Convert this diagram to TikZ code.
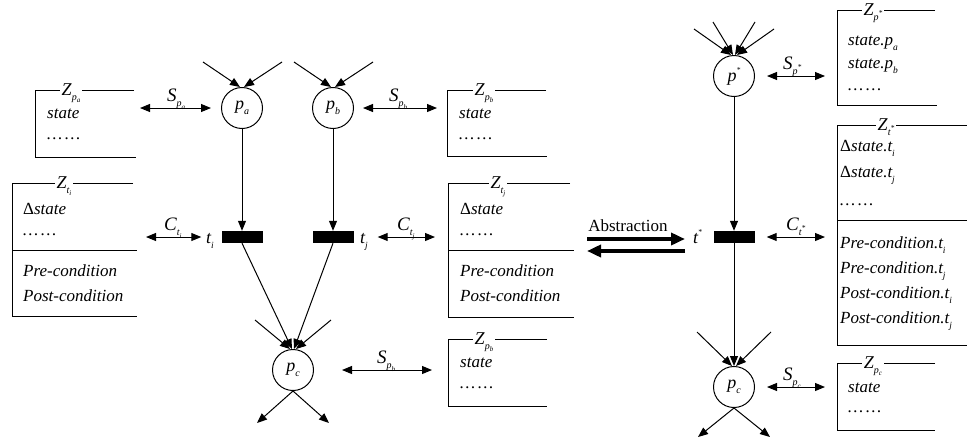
\documentclass[tikz,border=0pt]{standalone}
\usepackage{fontspec}
\setmainfont{Liberation Serif}
\usetikzlibrary{arrows.meta}
\newcommand{\sbx}[2]{#1\raisebox{-0.3em}{\fontsize{10}{10}\selectfont #2}}
\newcommand{\ssbx}[2]{#1\raisebox{-0.25em}{\fontsize{7}{7}\selectfont #2}}
\newcommand{\tsb}[2]{#1\raisebox{-0.3em}{\fontsize{9.5}{9.5}\selectfont #2}}
\newcommand{\supx}[2]{#1\raisebox{0.5em}{\fontsize{7.5}{7.5}\selectfont #2}}
\begin{document}
\begin{tikzpicture}[x=1pt,y=-1pt,
  place/.style={circle,draw,line width=1pt,minimum size=41pt,inner sep=0pt,font=\fontsize{18}{19}\selectfont\itshape},
  trans/.style={fill=black,minimum width=41pt,minimum height=12pt,inner sep=0pt},
  arc/.style={line width=1pt,-{Triangle[length=10pt,width=8pt]}},
  link/.style={line width=1pt,{Triangle[length=10pt,width=8pt]}-{Triangle[length=10pt,width=8pt]}},
  frame/.style={line width=1pt},
  txt/.style={anchor=base west,inner sep=0pt,font=\fontsize{17}{19}\selectfont\itshape},
  lab/.style={anchor=base west,inner sep=0pt,font=\fontsize{19}{21}\selectfont\itshape},
  zlab/.style={anchor=base,fill=white,inner xsep=2pt,inner ysep=0pt,font=\fontsize{18}{20}\selectfont\itshape},
  bigarrow/.style={line width=4.5pt,-{Triangle[length=14pt,width=12pt]}}
]
\useasboundingbox (0,0) rectangle (967,445);

% ---------- left net ----------
\node[place] (pa) at (242,108) {\sbx{p}{a}};
\node[place] (pb) at (333,108) {\sbx{p}{b}};
\node[trans] (ti) at (242,237) {};
\node[trans] (tj) at (333,237) {};
\node[place] (pc) at (293,370) {\sbx{p}{c}};

\coordinate (ina1) at (203,62);
\coordinate (ina2) at (282,62);
\coordinate (inb1) at (294,62);
\coordinate (inb2) at (373,62);
\coordinate (inc1) at (255,320);
\coordinate (inc2) at (331,320);
\coordinate (outc1) at (257,423);
\coordinate (outc2) at (329,423);

\draw[arc] (ina1) -- ([xshift=-2pt]pa.north);
\draw[arc] (ina2) -- ([xshift=2pt]pa.north);
\draw[arc] (inb1) -- ([xshift=-2pt]pb.north);
\draw[arc] (inb2) -- ([xshift=2pt]pb.north);
\draw[arc] (pa) -- (ti);
\draw[arc] (pb) -- (tj);
\draw[arc] (ti.south) -- ([xshift=-1pt]pc.north);
\draw[arc] (tj.south) -- ([xshift=1pt]pc.north);
\draw[arc] (inc1) -- ([xshift=-3pt]pc.north);
\draw[arc] (inc2) -- ([xshift=3pt]pc.north);
\draw[arc] (pc.south) -- (outc1);
\draw[arc] (pc.south) -- (outc2);

\node[txt,font=\fontsize{18}{19}\selectfont\itshape] (tilab) at (206,243) {\tsb{t}{i}};
\node[txt,font=\fontsize{18}{19}\selectfont\itshape] (tjlab) at (360,243) {\tsb{t}{j}};

% boxes left
\draw[frame] (134,90) -| (35,157) -- (136,157);
\node[zlab] (zpa) at (71,95) {\sbx{Z}{\ssbx{p}{a}}};
\node[txt] (zpa1) at (47,118) {state};
\node[txt] (zpa2) at (47,139) {…\,…};

\draw[frame] (133,183) -| (12,316) -- (137,316);
\draw[frame] (12,250) -- (137,250);
\node[zlab] (zti) at (64,188) {\sbx{Z}{\ssbx{t}{i}}};
\node[txt] (zti1) at (23,214) {\upshape Δ\itshape state};
\node[txt] (zti2) at (23,235) {…\,…};
\node[txt] (zti3) at (23,276) {Pre-condition};
\node[txt] (zti4) at (23,301) {Post-condition};

\draw[frame] (546,90) -| (447,156) -- (547,156);
\node[zlab] (zpb) at (484,95) {\sbx{Z}{\ssbx{p}{b}}};
\node[txt] (zpb1) at (459,118) {state};
\node[txt] (zpb2) at (459,139) {…\,…};

\draw[frame] (570,183) -| (448,317) -- (574,317);
\draw[frame] (448,250) -- (574,250);
\node[zlab] (ztj) at (498,188) {\sbx{Z}{\ssbx{t}{j}}};
\node[txt] (ztj1) at (460,214) {\upshape Δ\itshape state};
\node[txt] (ztj2) at (460,235) {…\,…};
\node[txt] (ztj3) at (460,276) {Pre-condition};
\node[txt] (ztj4) at (460,301) {Post-condition};

\draw[frame] (547,339) -| (448,406) -- (547,406);
\node[zlab] (zpc) at (484,344) {\sbx{Z}{\ssbx{p}{b}}};
\node[txt] (zpc1) at (460,367) {state};
\node[txt] (zpc2) at (460,388) {…\,…};

% links left
\coordinate (zpaE) at (140,108);
\coordinate (ztiE) at (146,237);
\coordinate (zpbW) at (437,108);
\coordinate (ztjW) at (435,237);
\coordinate (zpcW) at (432,370);
\draw[link] (zpaE) -- ([xshift=-10pt]pa.west);
\draw[link] (ztiE) -- ([xshift=-20pt]ti.west);
\draw[link] ([xshift=9pt]pb.east) -- (zpbW);
\draw[link] ([xshift=24pt]tj.east) -- (ztjW);
\draw[link] ([xshift=28pt]pc.east) -- (zpcW);
\node[lab] (spa) at (167,101) {\sbx{S}{\ssbx{p}{a}}};
\node[lab] (cti) at (164,230) {\sbx{C}{\ssbx{t}{i}}};
\node[lab] (spb) at (389,101) {\sbx{S}{\ssbx{p}{b}}};
\node[lab] (ctj) at (397,230) {\sbx{C}{\ssbx{t}{j}}};
\node[lab] (spc) at (377,363) {\sbx{S}{\ssbx{p}{b}}};

% ---------- abstraction ----------
\node[anchor=base,inner sep=0pt,font=\fontsize{17}{19}\selectfont] (abs) at (628,231) {Abstraction};
\coordinate (absL1) at (587,239);
\coordinate (absR1) at (685,239);
\coordinate (absL2) at (587,251);
\coordinate (absR2) at (685,251);
\draw[bigarrow] (absL1) -- (absR1);
\draw[bigarrow] (absR2) -- (absL2);

% ---------- right net ----------
\node[place] (ps) at (734,76) {\supx{p}{*}};
\node[trans] (ts) at (734,237) {};
\node[place] (pc2) at (734,387) {\sbx{p}{c}};
\node[txt,font=\fontsize{18}{19}\selectfont\itshape] (tslab) at (693,243) {\supx{t}{*}};

\coordinate (ins1) at (694,29);
\coordinate (ins2) at (713,22);
\coordinate (ins3) at (755,22);
\coordinate (ins4) at (774,29);
\coordinate (inr1) at (697,332);
\coordinate (inr2) at (771,332);
\coordinate (outr1) at (698,437);
\coordinate (outr2) at (770,437);
\draw[arc] (ins1) -- ([xshift=-3pt]ps.north);
\draw[arc] (ins2) -- ([xshift=-1pt]ps.north);
\draw[arc] (ins3) -- ([xshift=1pt]ps.north);
\draw[arc] (ins4) -- ([xshift=3pt]ps.north);
\draw[arc] (ps) -- (ts);
\draw[arc] (ts) -- (pc2);
\draw[arc] (inr1) -- ([xshift=-2pt]pc2.north);
\draw[arc] (inr2) -- ([xshift=2pt]pc2.north);
\draw[arc] (pc2.south) -- (outr1);
\draw[arc] (pc2.south) -- (outr2);

\draw[frame] (935,10) -| (837,105) -- (937,105);
\node[zlab] (zps) at (873,15) {\sbx{Z}{\supx{p}{*}}};
\node[txt] (zps1) at (848,45) {state.\tsb{p}{a}};
\node[txt] (zps2) at (848,68) {state.\tsb{p}{b}};
\node[txt] (zps3) at (848,90) {…\,…};

\draw[frame] (967,125) -| (837,345) -- (967,345);
\draw[frame] (837,220) -- (967,220);
\node[zlab] (zts) at (886,130) {\sbx{Z}{\supx{t}{*}}};
\node[txt] (zts1) at (840,151) {\upshape Δ\itshape state.\tsb{t}{i}};
\node[txt] (zts2) at (840,177) {\upshape Δ\itshape state.\tsb{t}{j}};
\node[txt] (zts3) at (840,205) {…\,…};
\node[txt] (zts4) at (840,248) {Pre-condition.\tsb{t}{i}};
\node[txt] (zts5) at (840,273) {Pre-condition.\tsb{t}{j}};
\node[txt] (zts6) at (840,298) {Post-condition.\tsb{t}{i}};
\node[txt] (zts7) at (840,323) {Post-condition.\tsb{t}{j}};

\draw[frame] (935,363) -| (837,430) -- (935,430);
\node[zlab] (zpr) at (873,368) {\sbx{Z}{\ssbx{p}{c}}};
\node[txt] (zpr1) at (848,392) {state};
\node[txt] (zpr2) at (848,412) {…\,…};

\coordinate (zpsW) at (825,76);
\coordinate (ztsW) at (825,237);
\coordinate (zprW) at (825,387);
\draw[link] ([xshift=12pt]ps.east) -- (zpsW);
\draw[link] ([xshift=12pt]ts.east) -- (ztsW);
\draw[link] ([xshift=12pt]pc2.east) -- (zprW);
\node[lab] (sps) at (783,69) {\sbx{S}{\supx{p}{*}}};
\node[lab] (cts) at (786,230) {\sbx{C}{\supx{t}{*}}};
\node[lab] (spr) at (783,380) {\sbx{S}{\ssbx{p}{c}}};
\end{tikzpicture}
\end{document}
